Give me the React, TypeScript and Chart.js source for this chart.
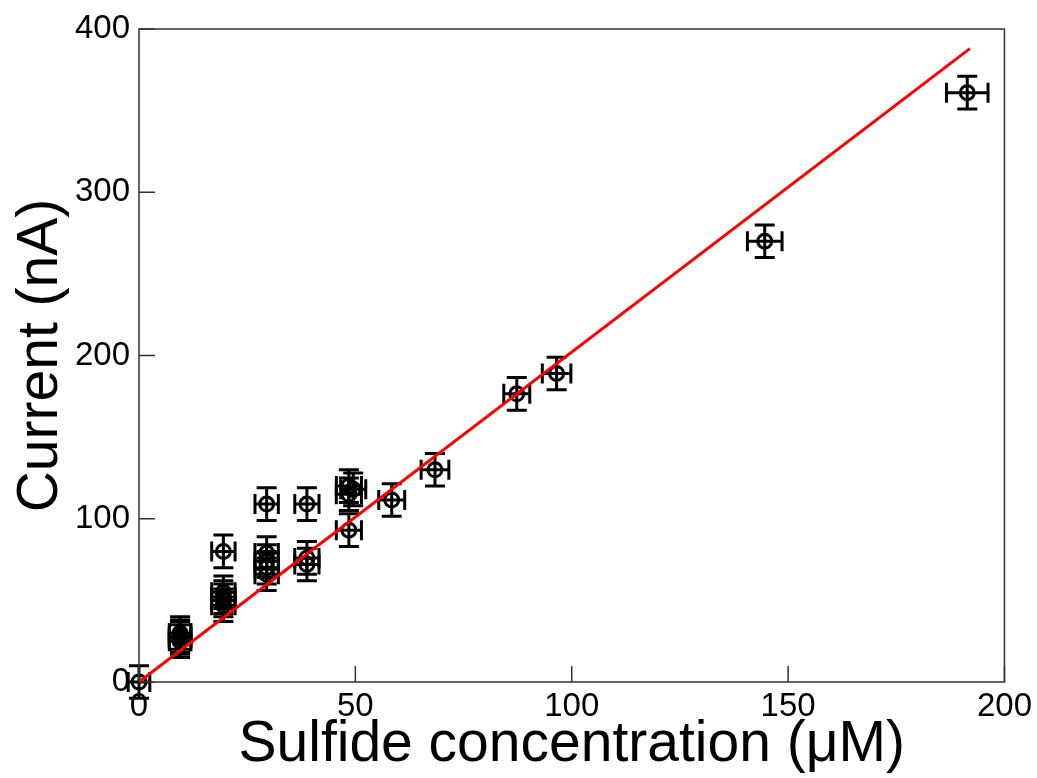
import React, { useEffect, useRef } from "react";
import { Chart, registerables } from "chart.js";

Chart.register(...registerables);

// Sulfide concentration (µM)
const concentration = [
  0, 9.5, 9.5, 9.5, 9.5, 19.5, 19.5, 19.5, 19.5, 19.5, 29.5, 29.5, 29.5, 29.5, 29.5,
  38.8, 38.8, 38.8, 48.5, 49.5, 48.5, 48.5, 58.4, 68.4, 87.3, 96.5, 144.6, 191.4,
];
// Current (nA)
const current = [
  0, 25, 27, 28, 30, 80, 55, 52, 50, 47, 109, 79, 74, 70, 66,
  109, 76, 72, 120, 118, 115, 93, 111.5, 130, 176.5, 189, 270, 361,
];
const concErr = [
  2.5, 2.5, 2.5, 2.5, 2.5, 2.7, 2.7, 2.7, 2.7, 2.7, 2.7, 2.7, 2.7, 2.7, 2.7,
  2.8, 2.8, 2.8, 2.9, 2.9, 2.9, 2.9, 3.0, 3.2, 3.0, 3.3, 4.0, 4.8,
];
const currentErr = [
  10, 10, 10, 10, 10, 10, 10, 10, 10, 10, 10, 10, 10, 10, 10,
  10, 10, 10, 10, 10, 10, 10, 10, 10, 10, 10, 10, 10,
];
// Linear fit
const fitX = [0, 192];
const fitY = [0, 388];

const xTicks = [0, 50, 100, 150, 200];
const yTicks = [0, 100, 200, 300, 400];

const FONT = "'Liberation Sans', Arial, Helvetica, sans-serif";

const framePlugin = {
  id: "frameAndErrors",
  beforeDatasetsDraw(chart: any) {
    const ctx = chart.ctx;
    const xs = chart.scales.x;
    const ys = chart.scales.y;
    ctx.save();
    ctx.strokeStyle = "#000";
    ctx.lineWidth = 3;
    const cap = 10;
    for (let i = 0; i < concentration.length; i++) {
      const px = xs.getPixelForValue(concentration[i]);
      const py = ys.getPixelForValue(current[i]);
      const y1 = ys.getPixelForValue(current[i] + currentErr[i]);
      const y2 = ys.getPixelForValue(current[i] - currentErr[i]);
      const x1 = xs.getPixelForValue(concentration[i] - concErr[i]);
      const x2 = xs.getPixelForValue(concentration[i] + concErr[i]);
      ctx.beginPath();
      ctx.moveTo(px, y1);
      ctx.lineTo(px, y2);
      ctx.moveTo(px - cap, y1);
      ctx.lineTo(px + cap, y1);
      ctx.moveTo(px - cap, y2);
      ctx.lineTo(px + cap, y2);
      ctx.moveTo(x1, py);
      ctx.lineTo(x2, py);
      ctx.moveTo(x1, py - cap);
      ctx.lineTo(x1, py + cap);
      ctx.moveTo(x2, py - cap);
      ctx.lineTo(x2, py + cap);
      ctx.stroke();
    }
    ctx.restore();
  },
  afterDraw(chart: any) {
    const ctx = chart.ctx;
    const { left, right, top, bottom } = chart.chartArea;
    const xs = chart.scales.x;
    const ys = chart.scales.y;
    ctx.save();
    ctx.strokeStyle = "#333";
    ctx.lineWidth = 1.5;
    ctx.strokeRect(left, top, right - left, bottom - top);
    ctx.beginPath();
    const tl = 16;
    xTicks.forEach((v) => {
      const p = xs.getPixelForValue(v);
      ctx.moveTo(p, bottom);
      ctx.lineTo(p, bottom - tl);
    });
    yTicks.forEach((v) => {
      const p = ys.getPixelForValue(v);
      ctx.moveTo(left, p);
      ctx.lineTo(left + tl, p);
    });
    ctx.stroke();
    ctx.restore();
  },
};

export default function App() {
  const ref = useRef<HTMLCanvasElement | null>(null);
  useEffect(() => {
    if (!ref.current) return;
    const chart = new Chart(ref.current, {
      type: "scatter",
      data: {
        datasets: [
          {
            type: "line",
            data: fitX.map((x, i) => ({ x, y: fitY[i] })),
            borderColor: "#ff0000",
            borderWidth: 3,
            pointRadius: 0,
            fill: false,
            tension: 0,
          } as any,
          {
            data: concentration.map((x, i) => ({ x, y: current[i] })),
            pointStyle: "circle",
            pointRadius: 7,
            pointBorderWidth: 3,
            pointBorderColor: "#000",
            pointBackgroundColor: "rgba(0,0,0,0)",
            clip: false,
          } as any,
        ],
      },
      options: {
        responsive: false,
        animation: false,
        events: [],
        layout: { padding: { top: 29, right: 32, left: 0, bottom: 0 } },
        plugins: { legend: { display: false }, tooltip: { enabled: false } },
        scales: {
          x: {
            type: "linear",
            min: 0,
            max: 200,
            afterBuildTicks: (s: any) => {
              s.ticks = xTicks.map((v) => ({ value: v }));
            },
            afterFit: (s: any) => {
              s.height = 96;
            },
            grid: { display: false, drawTicks: false },
            border: { display: false },
            ticks: {
              color: "#000",
              padding: 5,
              maxRotation: 0,
              font: { family: FONT, size: 33 },
            },
            title: {
              display: true,
              text: "Sulfide concentration (μM)",
              color: "#000",
              font: { family: FONT, size: 57, lineHeight: 1 },
              padding: { top: 0, bottom: 4 },
            },
          },
          y: {
            type: "linear",
            min: 0,
            max: 400,
            afterBuildTicks: (s: any) => {
              s.ticks = yTicks.map((v) => ({ value: v }));
            },
            afterFit: (s: any) => {
              s.width = 139;
            },
            grid: { display: false, drawTicks: false },
            border: { display: false },
            ticks: {
              color: "#000",
              padding: 9,
              font: { family: FONT, size: 33 },
            },
            title: {
              display: true,
              text: "Current (nA)",
              color: "#000",
              font: { family: FONT, size: 57, lineHeight: 1 },
              padding: { top: 13, bottom: 0 },
            },
          },
        },
      },
      plugins: [framePlugin],
    });
    return () => chart.destroy();
  }, []);
  return (
    <div style={{ position: "fixed", left: 0, top: 0, width: 1037, height: 778, background: "#fff" }}>
      <canvas ref={ref} width={1037} height={778} style={{ width: 1037, height: 778, display: "block" }} />
    </div>
  );
}
